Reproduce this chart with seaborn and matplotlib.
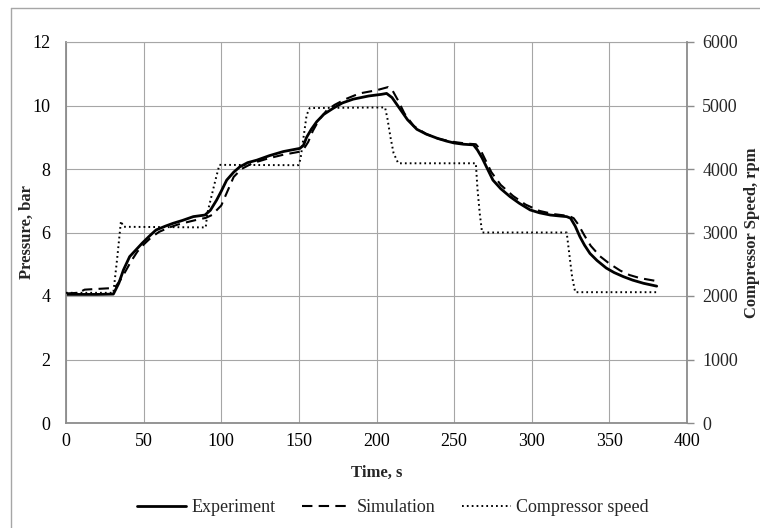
import numpy as np
import pandas as pd
import seaborn as sns
import matplotlib.pyplot as plt
from matplotlib.lines import Line2D

# experiment pressure, bar
exp_t = [0, 10, 20, 30.5, 34, 37, 41, 45, 49, 54, 58, 64, 69, 75, 82, 89.5, 93, 97, 100,
         103.5, 108, 112, 117, 123, 131, 140, 150.7, 153, 155, 158, 161.5, 166, 172, 178,
         185, 195, 203, 206.5, 210, 215, 220, 226, 232, 239, 245, 250, 256, 262.5, 265,
         268, 271, 275, 280, 286, 292, 299, 305, 312, 318, 322.5, 325, 328, 331, 334,
         337.5, 342, 348, 353, 359, 365, 372, 380.5]
exp_p = [4.05, 4.05, 4.05, 4.06, 4.4, 4.82, 5.24, 5.45, 5.66, 5.9, 6.08, 6.2, 6.29, 6.38,
         6.5, 6.55, 6.7, 7.02, 7.3, 7.65, 7.9, 8.07, 8.2, 8.28, 8.42, 8.55, 8.65, 8.75,
         9.0, 9.25, 9.49, 9.72, 9.91, 10.08, 10.2, 10.3, 10.35, 10.38, 10.25, 9.9, 9.55,
         9.25, 9.1, 8.97, 8.88, 8.82, 8.78, 8.76, 8.6, 8.35, 8.05, 7.65, 7.38, 7.13, 6.92,
         6.71, 6.62, 6.55, 6.52, 6.5, 6.45, 6.2, 5.87, 5.6, 5.34, 5.12, 4.88, 4.74, 4.61,
         4.5, 4.4, 4.31]

# simulation pressure, bar
sim_t = [0, 8, 12, 30, 32, 35, 38, 42, 46, 50, 55, 60, 66, 72, 80, 86, 90, 94, 97, 100,
         104, 108, 113, 120, 130, 140, 150, 153, 156, 159, 163, 168, 173, 180, 189, 200,
         207.5, 210, 214, 218, 224, 232, 240, 250, 258, 264, 267, 270, 274, 280, 288, 296,
         305, 314, 324, 327, 330, 334, 338, 344, 350, 357, 363, 370, 380.5]
sim_p = [4.08, 4.1, 4.2, 4.25, 4.3, 4.5, 4.75, 5.1, 5.4, 5.62, 5.85, 6.02, 6.15, 6.25,
         6.35, 6.42, 6.46, 6.55, 6.7, 6.85, 7.3, 7.75, 8.0, 8.18, 8.33, 8.45, 8.54, 8.62,
         8.85, 9.2, 9.55, 9.85, 10.02, 10.2, 10.38, 10.48, 10.58, 10.5, 10.15, 9.75, 9.35,
         9.1, 8.95, 8.85, 8.8, 8.78, 8.6, 8.3, 7.9, 7.5, 7.15, 6.88, 6.68, 6.58, 6.52,
         6.45, 6.25, 5.9, 5.58, 5.25, 5.02, 4.8, 4.66, 4.56, 4.47]

# compressor speed, rpm
cs_t = [0, 30.5, 33, 35.4, 37, 90, 91, 93, 96, 98.8, 149.6, 151, 153, 155, 157, 205.5,
        207, 209, 211, 214, 264, 265, 266.5, 268, 322.5, 324, 326, 328, 380.5]
cs_rpm = [2050, 2050, 2600, 3180, 3090, 3080, 3300, 3500, 3800, 4065, 4060, 4150, 4500,
          4850, 4960, 4970, 4800, 4500, 4250, 4090, 4090, 3700, 3300, 3000, 3000, 2700,
          2300, 2060, 2060]

sns.set_style("white")
plt.rcParams['font.family'] = ['Liberation Serif', 'DejaVu Serif']

df_exp = pd.DataFrame({'Time': exp_t, 'Pressure': exp_p})
df_sim = pd.DataFrame({'Time': sim_t, 'Pressure': sim_p})
df_cs = pd.DataFrame({'Time': cs_t, 'Speed': cs_rpm})

grid_c = '#a6a6a6'
spine_c = '#8c8c8c'

fig = plt.figure(figsize=(7.6, 5.28), dpi=100)
ax = fig.add_axes([66/760, 1-423/528, 621/760, 381/528])
ax2 = ax.twinx()

sns.lineplot(data=df_exp, x='Time', y='Pressure', ax=ax, color='black', linewidth=2.0,
             label='Experiment', legend=False)
sns.lineplot(data=df_sim, x='Time', y='Pressure', ax=ax, color='black', linewidth=1.5,
             label='Simulation', legend=False)
sns.lineplot(data=df_cs, x='Time', y='Speed', ax=ax2, color='black', linewidth=1.4,
             label='Compressor speed', legend=False)
l_exp, l_sim = ax.get_lines()[:2]
l_cs = ax2.get_lines()[0]
l_sim.set_dashes((5, 3))
l_cs.set_dashes((0.9, 1.6))

ax.set_xlim(0, 400)
ax.set_ylim(0, 12)
ax.set_xticks(np.arange(0, 401, 50))
ax.set_yticks(np.arange(0, 13, 2))
ax2.set_ylim(0, 6000)
ax2.set_yticks(np.arange(0, 6001, 1000))

ax.grid(True, color=grid_c, linewidth=0.8)
ax2.grid(False)
for s in ['left', 'bottom']:
    ax.spines[s].set_color(spine_c)
    ax.spines[s].set_linewidth(1.3)
ax.spines['top'].set_color(grid_c)
ax.spines['top'].set_linewidth(0.8)
ax.spines['right'].set_visible(False)
ax2.spines['right'].set_color(spine_c)
ax2.spines['right'].set_linewidth(1.3)
for s in ['left', 'bottom', 'top']:
    ax2.spines[s].set_visible(False)

ax.tick_params(axis='both', length=0, labelsize=13, colors='black')
ax.tick_params(axis='y', pad=11)
ax.tick_params(axis='x', pad=7)
ax2.tick_params(axis='y', length=5, width=1, color=spine_c, labelsize=13, pad=6)

ax.set_xlabel('Time, s', fontsize=12, fontweight='bold')
ax.set_ylabel('Pressure, bar', fontsize=12, fontweight='bold')
ax2.set_ylabel('Compressor Speed, rpm', fontsize=12, fontweight='bold')
ax.xaxis.set_label_coords(0.5, -0.110)
ax.yaxis.set_label_coords(-0.050, 0.5)
ax2.yaxis.set_label_coords(1.091, 0.5)

fig.legend(handles=[l_exp, l_sim, l_cs], labels=['Experiment', 'Simulation', 'Compressor speed'],
           loc='center', bbox_to_anchor=(393/760, 1-508/528), ncol=3, frameon=False,
           fontsize=13, handlelength=2.7, handletextpad=0.3, columnspacing=1.5)

# outer chart frame (only top and left edges visible)
fig.add_artist(Line2D([10.5/760, 10.5/760], [0, 1-7.5/528], color=grid_c, linewidth=1))
fig.add_artist(Line2D([10.5/760, 1], [1-7.5/528, 1-7.5/528], color=grid_c, linewidth=1))

plt.savefig('out.png', dpi=100)
